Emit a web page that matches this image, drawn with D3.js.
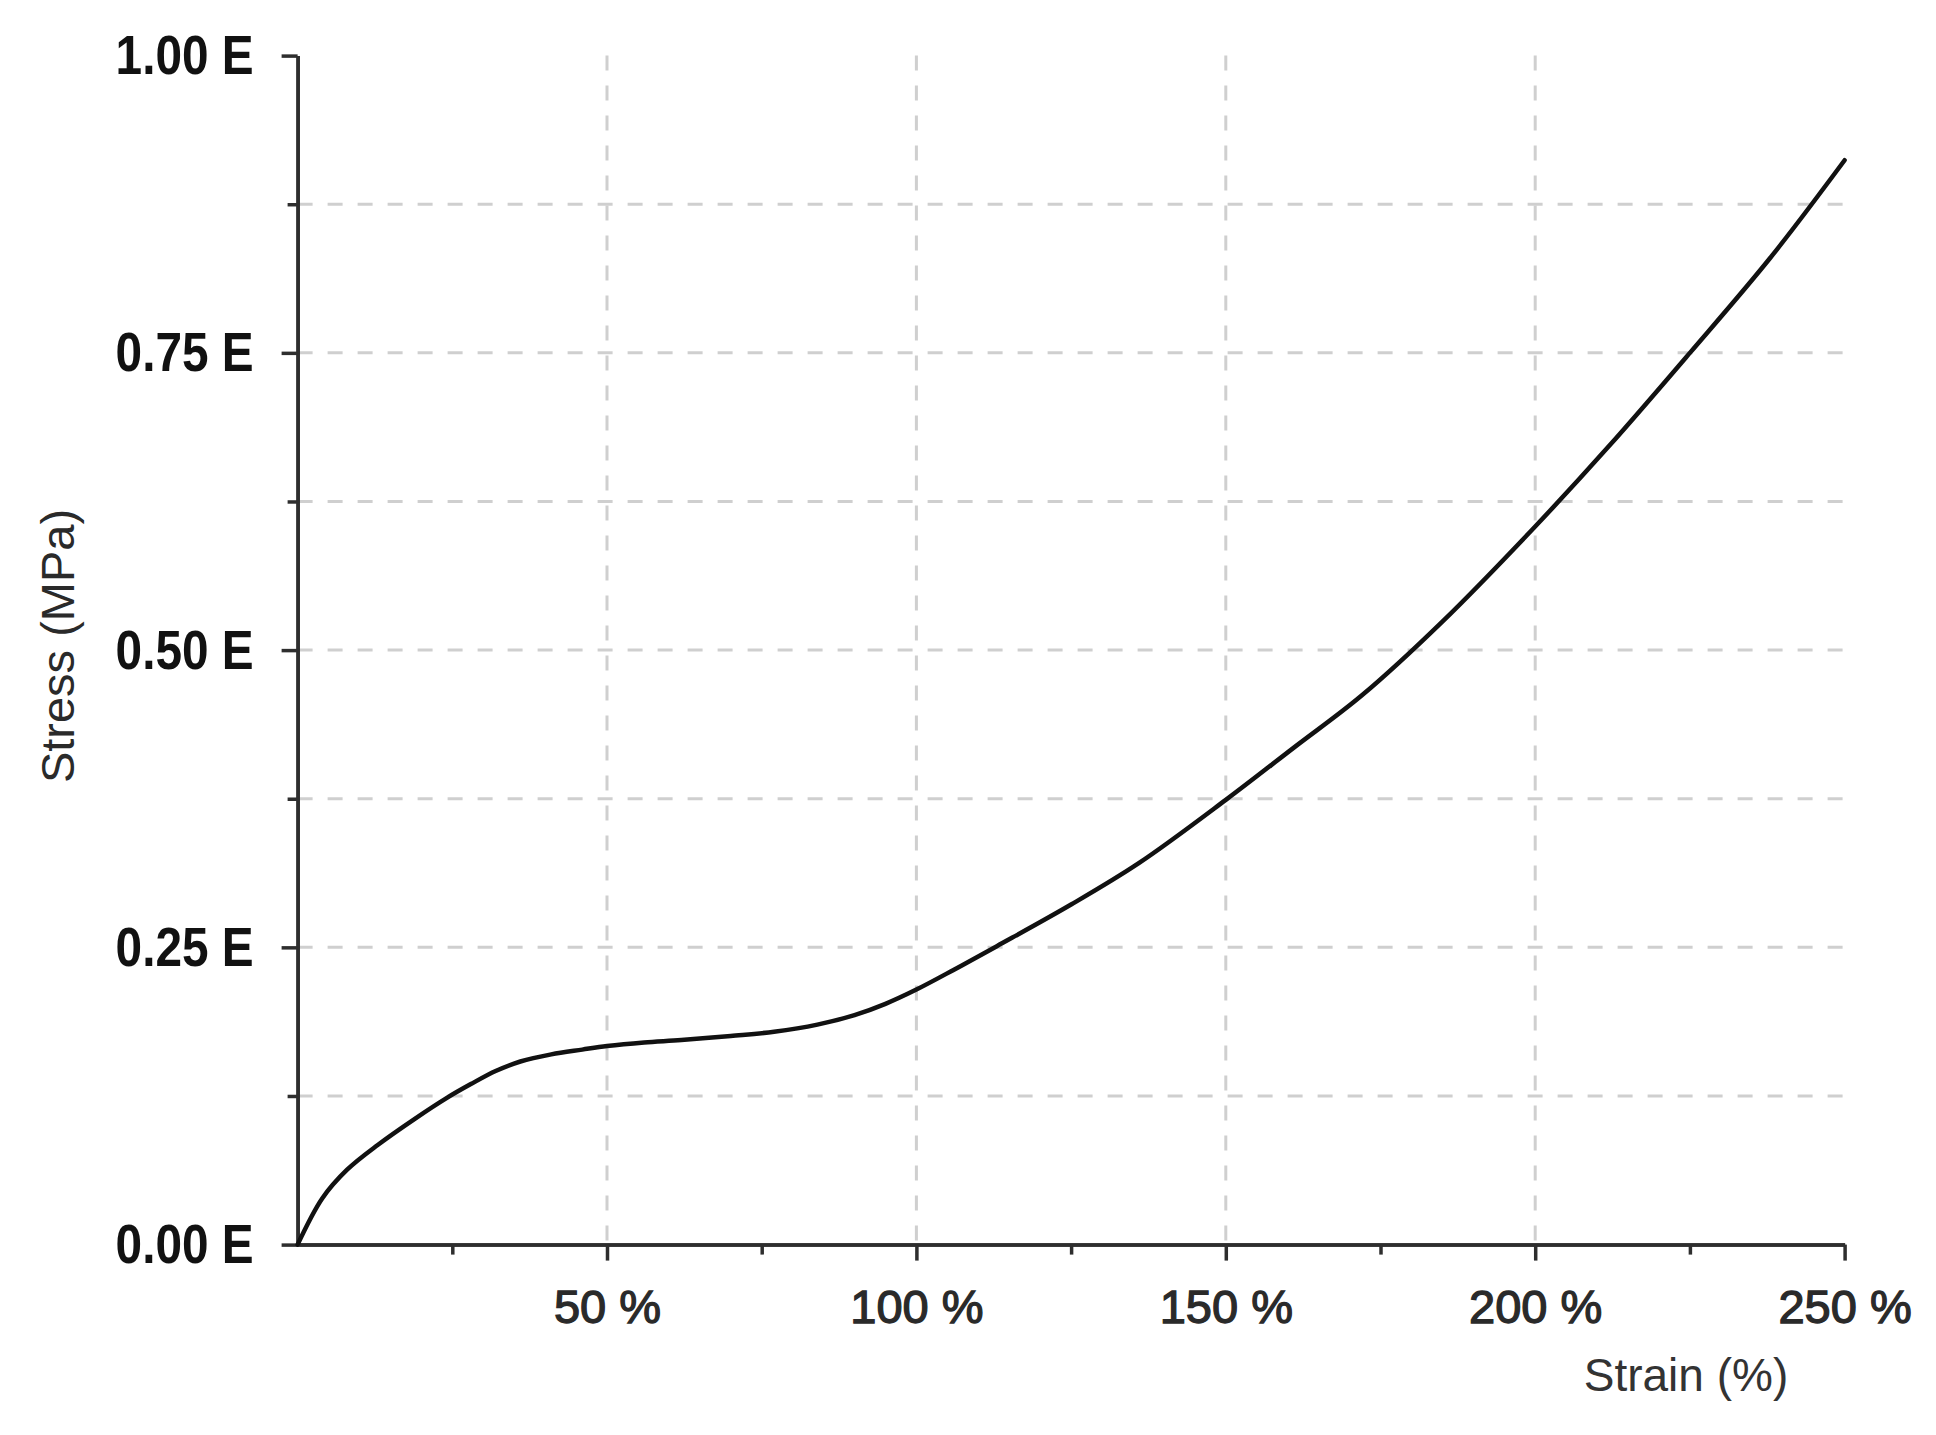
<!DOCTYPE html>
<html>
<head>
<meta charset="utf-8">
<script src="https://cdn.jsdelivr.net/npm/d3@7"></script>
<style>
  html, body { margin: 0; padding: 0; background: #fff; }
  svg { display: block; }
</style>
</head>
<body>
<svg id="chart" width="1936" height="1435"></svg>
<script>
// Data
const strain = [0, 4, 8, 13, 19, 24, 28, 32, 36, 41, 46, 50, 56, 62, 70, 77, 84, 90, 95, 100, 106, 113, 125, 136, 150, 161, 172, 185, 200, 212, 225, 238, 250];
const stress = [0, 0.039, 0.063, 0.084, 0.106, 0.123, 0.135, 0.146, 0.154, 0.160, 0.164, 0.167, 0.170, 0.172, 0.1755, 0.179, 0.185, 0.193, 0.2025, 0.2145, 0.231, 0.251, 0.286, 0.321, 0.374, 0.418, 0.462, 0.524, 0.604, 0.672, 0.750, 0.830, 0.912];
const xMajorTicks = [50, 100, 150, 200, 250];
const xMinorTicks = [25, 75, 125, 175, 225];
const yMajorTicks = [0, 0.25, 0.5, 0.75, 1.0];
const yMinorTicks = [0.125, 0.375, 0.625, 0.875];
const xGridTicks = [50, 100, 150, 200];
const yGridTicks = [0.125, 0.25, 0.375, 0.5, 0.625, 0.75, 0.875];
const xTickLabels = ["50 %", "100 %", "150 %", "200 %", "250 %"];
const yTickLabels = ["0.00 E", "0.25 E", "0.50 E", "0.75 E", "1.00 E"];
const xTitle = "Strain (%)";
const yTitle = "Stress (MPa)";

const svg = d3.select("#chart");
const m = { left: 297.6, top: 55.6, right: 1936 - 1844.6, bottom: 1435 - 1244.6 };
const W = 1936 - m.left - m.right;
const H = 1435 - m.top - m.bottom;

const x = d3.scaleLinear().domain([0, 250]).range([0, W]);
const y = d3.scaleLinear().domain([0, 1]).range([H, 0]);

const g = svg.append("g").attr("transform", `translate(${m.left},${m.top})`);

// Grid
const gridColor = "#cfcfcf";
g.append("g").selectAll("line").data(yGridTicks).join("line")
  .attr("x1", 0).attr("x2", x(250))
  .attr("y1", d => y(d)).attr("y2", d => y(d))
  .attr("stroke", gridColor).attr("stroke-width", 3)
  .attr("stroke-dasharray", "15,15");
g.append("g").selectAll("line").data(xGridTicks).join("line")
  .attr("x1", d => x(d)).attr("x2", d => x(d))
  .attr("y1", 0).attr("y2", H)
  .attr("stroke", gridColor).attr("stroke-width", 3)
  .attr("stroke-dasharray", "15,15");

const axisColor = "#2e2e2e";

// Minor ticks
const xMinor = g.append("g").attr("transform", `translate(0,${H})`)
  .call(d3.axisBottom(x).tickValues(xMinorTicks).tickSize(10).tickSizeOuter(0).tickFormat(""));
const yMinor = g.append("g")
  .call(d3.axisLeft(y).tickValues(yMinorTicks).tickSize(10).tickSizeOuter(0).tickFormat(""));

// Major axes
const xAxis = g.append("g").attr("transform", `translate(0,${H})`)
  .call(d3.axisBottom(x).tickValues(xMajorTicks).tickSize(16).tickSizeOuter(0).tickPadding(29)
    .tickFormat((d, i) => xTickLabels[i]));
const yAxis = g.append("g")
  .call(d3.axisLeft(y).tickValues(yMajorTicks).tickSize(16).tickSizeOuter(0).tickPadding(28)
    .tickFormat((d, i) => yTickLabels[i]));

[xMinor, yMinor, xAxis, yAxis].forEach(a => {
  a.select(".domain").attr("stroke", axisColor).attr("stroke-width", 3.5);
  a.selectAll(".tick line").attr("stroke", axisColor).attr("stroke-width", 3.5);
});

xAxis.selectAll(".tick text")
  .attr("font-family", "Liberation Sans, Arial, sans-serif")
  .attr("font-size", 47).attr("font-weight", "normal").attr("fill", "#2a2a2a")
  .attr("stroke", "#2a2a2a").attr("stroke-width", 1.3);
yAxis.selectAll(".tick text")
  .attr("font-family", "Liberation Sans, Arial, sans-serif")
  .attr("font-size", 56).attr("font-weight", "bold").attr("fill", "#111")
  .attr("textLength", 138).attr("lengthAdjust", "spacingAndGlyphs");

// Curve
const pts = strain.map((s, i) => [s, stress[i]]);
g.append("path").datum(pts)
  .attr("fill", "none").attr("stroke", "#111").attr("stroke-width", 4.5)
  .attr("stroke-linejoin", "round").attr("stroke-linecap", "round")
  .attr("d", d3.line().x(d => x(d[0])).y(d => y(d[1])).curve(d3.curveCatmullRom.alpha(0.5)));

// Titles
svg.append("text").text(xTitle)
  .attr("x", 1686).attr("y", 1391).attr("text-anchor", "middle")
  .attr("font-family", "Liberation Sans, Arial, sans-serif")
  .attr("font-size", 46).attr("fill", "#333");
svg.append("text").text(yTitle)
  .attr("transform", `translate(74,646) rotate(-90)`).attr("text-anchor", "middle")
  .attr("font-family", "Liberation Sans, Arial, sans-serif")
  .attr("font-size", 47).attr("fill", "#2a2a2a");
</script>
</body>
</html>
